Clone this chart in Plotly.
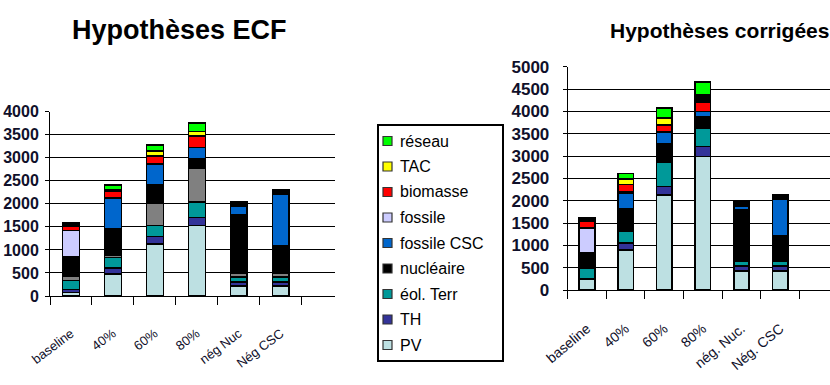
import plotly.graph_objects as go

# Scenario labels for each panel
scenarios_ecf = ["baseline", "40%", "60%", "80%", "nég Nuc", "Nég CSC"]
scenarios_corr = ["baseline", "40%", "60%", "80%", "nég. Nuc.", "Nég. CSC"]

# Production by source, "Hypothèses ECF" panel
ecf_pv = [72, 480, 1125, 1530, 215, 215]
ecf_th = [73, 130, 170, 175, 85, 85]
ecf_eol = [195, 225, 235, 340, 115, 115]
ecf_grey = [80, 45, 490, 735, 85, 85]
ecf_nuc = [430, 575, 390, 200, 1260, 600]
ecf_csc = [0, 670, 460, 245, 190, 1120]
ecf_fossile = [570, 0, 0, 0, 0, 0]
ecf_other_low = [0, 0, 0, 0, 100, 90]
ecf_biomasse = [90, 145, 175, 250, 0, 0]
ecf_other_high = [70, 40, 0, 0, 0, 0]
ecf_tac = [0, 0, 105, 95, 0, 0]
ecf_reseau = [0, 100, 130, 190, 0, 0]

# Production by source, "Hypothèses corrigées" panel
corr_pv = [250, 900, 2130, 2990, 430, 430]
corr_th = [0, 150, 190, 225, 110, 110]
corr_eol = [230, 260, 535, 410, 95, 95]
corr_grey = [0, 0, 0, 0, 0, 0]
corr_nuc = [350, 510, 415, 250, 1160, 580]
corr_csc = [0, 350, 270, 120, 85, 815]
corr_fossile = [560, 0, 0, 0, 0, 0]
corr_other_low = [0, 40, 0, 0, 115, 100]
corr_biomasse = [140, 155, 160, 220, 0, 0]
corr_other_high = [90, 0, 0, 150, 0, 0]
corr_tac = [0, 125, 145, 0, 0, 0]
corr_reseau = [0, 120, 230, 290, 0, 0]

# Stack order, bottom to top: (name, colour, listed in key, ECF values, corrected values)
series = [
    ("PV", "#BDE0E2", True, ecf_pv, corr_pv),
    ("TH", "#333399", True, ecf_th, corr_th),
    ("éol. Terr", "#009999", True, ecf_eol, corr_eol),
    ("hydraulique", "#808080", False, ecf_grey, corr_grey),
    ("nucléaire", "#000000", True, ecf_nuc, corr_nuc),
    ("fossile CSC", "#0066CC", True, ecf_csc, corr_csc),
    ("fossile", "#CCCCFF", True, ecf_fossile, corr_fossile),
    ("autres", "#000000", False, ecf_other_low, corr_other_low),
    ("biomasse", "#FF0000", True, ecf_biomasse, corr_biomasse),
    ("divers", "#000000", False, ecf_other_high, corr_other_high),
    ("TAC", "#FFFF00", True, ecf_tac, corr_tac),
    ("réseau", "#00FF00", True, ecf_reseau, corr_reseau),
]

W, H = 830, 385
FONT = "Liberation Sans, Arial, sans-serif"

fig = go.Figure()
for name, colour, _, ecf_vals, corr_vals in series:
    marker = dict(color=colour, line=dict(color="#000000", width=1.6))
    fig.add_trace(go.Bar(
        x=scenarios_ecf, y=[v if v else None for v in ecf_vals], name=name,
        marker=marker, showlegend=False, xaxis="x", yaxis="y",
    ))
    fig.add_trace(go.Bar(
        x=scenarios_corr, y=[v if v else None for v in corr_vals], name=name,
        marker=marker, showlegend=False, xaxis="x2", yaxis="y2",
    ))

tick_font = dict(family=FONT, size=16, color="#10102a", weight="bold")
cat_font = dict(family=FONT, size=13, color="#10102a")

common_x = dict(
    type="category", showline=True, linecolor="#000000", linewidth=1,
    ticks="outside", tickson="boundaries", ticklen=8, tickcolor="#000000",
    showgrid=False, zeroline=False, tickfont=cat_font, range=[-0.5, 6.29],
    automargin=False, ticklabelstandoff=24,
)
common_y = dict(
    showline=True, linecolor="#000000", linewidth=1, ticks="outside", ticklen=4,
    tickcolor="#000000", showgrid=True, gridcolor="#000000", gridwidth=1,
    zeroline=False, dtick=500, tickfont=tick_font, automargin=False,
)

# Key box: entries listed top to bottom in reverse stacking order
key_entries = [(n, c) for n, c, shown, _, _ in series if shown][::-1]
key_left, key_right, key_top, key_bottom = 378, 503, 125, 361
row_first, row_step = 141, 25.5
shapes = [dict(type="rect", xref="paper", yref="paper",
               x0=key_left / W, x1=key_right / W,
               y0=1 - key_bottom / H, y1=1 - key_top / H,
               line=dict(color="#000000", width=2), fillcolor="#FFFFFF", layer="above")]
annotations = []
for i, (name, colour) in enumerate(key_entries):
    cy = row_first + i * row_step
    shapes.append(dict(type="rect", xref="paper", yref="paper",
                       x0=383 / W, x1=392 / W, y0=1 - (cy + 4.5) / H, y1=1 - (cy - 4.5) / H,
                       line=dict(color="#333333", width=1.2), fillcolor=colour, layer="above"))
    annotations.append(dict(text=name, x=398 / W, y=1 - cy / H, xref="paper", yref="paper",
                            xanchor="left", yanchor="middle", showarrow=False,
                            font=dict(family=FONT, size=16, color="#000000")))

annotations += [
    dict(text="<b>Hypothèses ECF</b>", x=179 / W, y=1 - 30 / H, xref="paper",
         yref="paper", showarrow=False, font=dict(family=FONT, size=27, color="#000000"),
         xanchor="center", yanchor="middle"),
    dict(text="<b>Hypothèses corrigées</b>", x=719 / W, y=1 - 30 / H, xref="paper",
         yref="paper", showarrow=False, font=dict(family=FONT, size=21, color="#000000"),
         xanchor="center", yanchor="middle"),
]

fig.update_layout(
    width=W, height=H,
    margin=dict(l=0, r=0, t=0, b=0, autoexpand=False),
    paper_bgcolor="#FFFFFF", plot_bgcolor="#FFFFFF",
    barmode="stack", bargap=0.6, showlegend=False,
    font=dict(family=FONT, color="#000000"),
    xaxis=dict(common_x, domain=[50 / W, 335 / W], anchor="y", tickangle=-37),
    yaxis=dict(common_y, domain=[1 - 296 / H, 1 - 111.7 / H], range=[0, 4000],
               anchor="x", ticklabelstandoff=3),
    xaxis2=dict(common_x, domain=[567.7 / W, 1.0], anchor="y2", tickangle=-40,
                tickfont=dict(cat_font, size=14)),
    yaxis2=dict(common_y, domain=[1 - 290 / H, 1 - 66.7 / H], range=[0, 5000],
                anchor="x2", ticklabelstandoff=10, tickfont=dict(tick_font, size=17)),
    shapes=shapes,
    annotations=annotations,
)

fig.write_html("out.html")
